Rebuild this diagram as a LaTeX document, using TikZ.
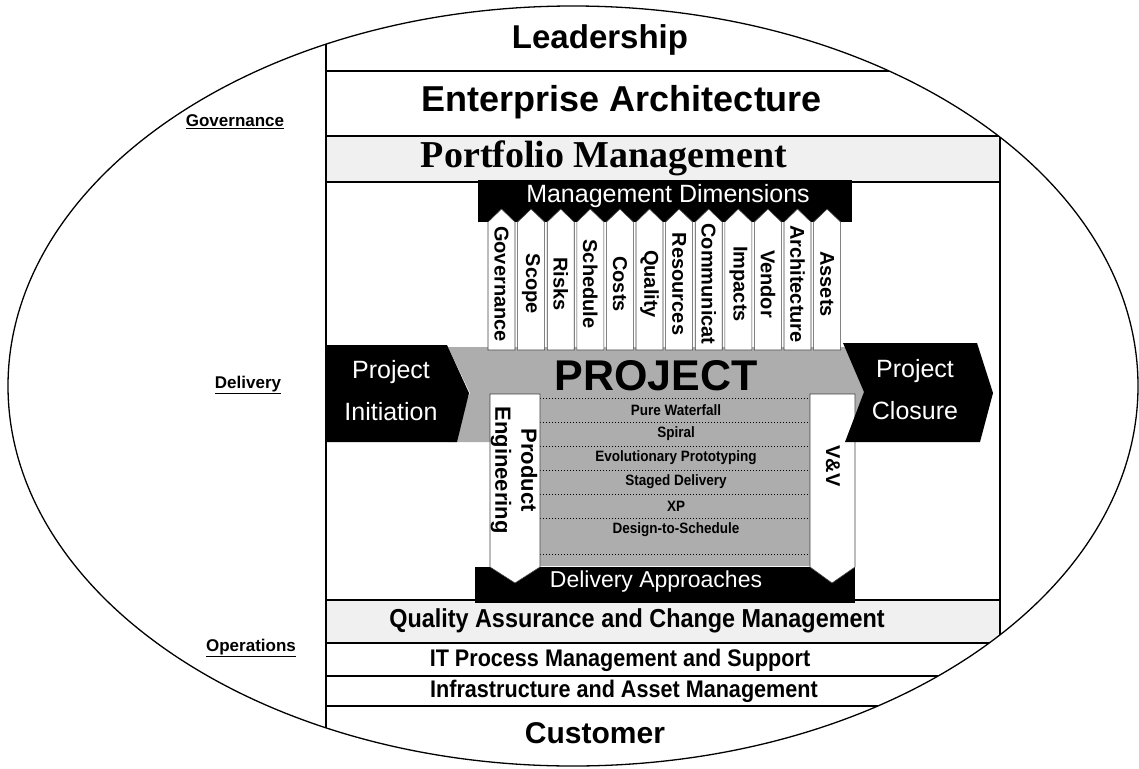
\documentclass[tikz,border=0pt]{standalone}
\usepackage{fontspec}
\setmainfont{Liberation Sans}
\newfontfamily\timesbold{Liberation Serif}
\newfontfamily\narrowsans[FakeStretch=0.9]{Liberation Sans}
\begin{document}
\begin{tikzpicture}[x=1pt,y=-1pt]

    \tikzset{
      band/.style={fill=black!6},
      sepline/.style={draw=black, line width=1.3pt},
      shade/.style={fill=black!32},
      darkbox/.style={fill=black},
      dimcol/.style={draw=black!75, line width=0.6pt, fill=white},
      dimlabel/.style={font=\bfseries\fontsize{20}{20}\selectfont, rotate=-90, anchor=center},
      rowline/.style={draw=black, line width=1pt, dotted},
      approach/.style={font=\narrowsans\bfseries\fontsize{15}{15}\selectfont},
      whitetext/.style={text=white, font=\fontsize{25}{42}\selectfont, align=center},
      sidelabel/.style={font=\bfseries\fontsize{17}{17}\selectfont},
      layer/.style={font=\narrowsans\bfseries\fontsize{24}{24}\selectfont},
    }
    \useasboundingbox (0,0) rectangle (1139,768);

    % bands of the oval
    \begin{scope}
      \clip (573,386) ellipse [x radius=565, y radius=380];
      \fill[band] (326,136) rectangle (1000,182);
      \fill[band] (326,600) rectangle (1000,643);
      \draw[sepline] (326,71) -- (1139,71);
      \draw[sepline] (326,136) -- (1000,136) -- (1000,768);
      \draw[sepline] (326,182) -- (1000,182);
      \draw[sepline] (326,600) -- (1000,600);
      \draw[sepline] (326,643) -- (1139,643);
      \draw[sepline] (326,676) -- (1139,676);
      \draw[sepline] (326,706) -- (1139,706);
      \draw[line width=1.8pt] (326,0) -- (326,768);
    \end{scope}
    \draw[line width=1.3pt] (573,386) ellipse [x radius=565, y radius=380];

    \node[font=\bfseries\fontsize{33}{33}\selectfont] (leader) at (600,40) {Leadership};
    \node[font=\bfseries\fontsize{36}{36}\selectfont] (entarch) at (622,102) {Enterprise Architecture};
    \node[font=\timesbold\bfseries\fontsize{38}{38}\selectfont] (portfolio) at (604,158) {Portfolio Management};

    \node[sidelabel] (govern) at (235,122) {\underline{Governance}};
    \node[sidelabel] (deliv) at (248,385) {\underline{Delivery}};
    \node[sidelabel] (oper) at (251,648) {\underline{Operations}};

    % project arrow and delivery area
    \fill[shade] (448,347) -- (850,347) -- (872,393) -- (850,442) -- (540,442)
      -- (540,566) -- (810,566) -- (810,442) -- (448,442) -- (470,393) -- cycle;
    \fill[shade] (540,395) rectangle (810,566);

    % management dimensions
    \fill[darkbox] (478,180) -- (852,180) -- (852,222) -- (478,222) -- cycle;
    \node[text=white, font=\fontsize{25}{25}\selectfont] (mgmt) at (668,196) {Management Dimensions};
    \foreach \dim [count=\i from 0] in {Governance,Scope,Risks,Schedule,Costs,Quality,Resources,Communicat,Impacts,Vendor,Architecture,Assets} {
      \pgfmathsetmacro\xl{488+\i*29.6}
      \draw[dimcol] (\xl,350) -- (\xl,222) -- (\xl+13.5,209) -- (\xl+27,222) -- (\xl+27,350) -- cycle;
      \node[dimlabel] (dim\i) at (\xl+13.5,284) {\dim};
    }

    \node[font=\bfseries\fontsize{43}{43}\selectfont] (proj) at (656,376) {PROJECT};

    % delivery approaches
    \foreach \appr [count=\i from 0] in {Pure Waterfall,Spiral,Evolutionary Prototyping,Staged Delivery,XP,Design-to-Schedule} {
      \draw[rowline] (540,398+\i*24) -- (810,398+\i*24);
      \node[approach] (appr\i) at (676,410+\i*24) {\appr};
    }
    \draw[rowline] (540,554) -- (810,554);

    \fill[darkbox] (475,567) -- (855,567) -- (855,603) -- (475,603) -- cycle;
    \node[text=white, font=\fontsize{23}{23}\selectfont] (delapp) at (656,582) {Delivery Approaches};

    \draw[dimcol] (490,394) -- (540,394) -- (540,567) -- (515,583) -- (490,567) -- cycle;
    \node[font=\bfseries\fontsize{22}{26}\selectfont, rotate=-90, align=center] (prodeng) at (514,470) {Product\\Engineering};
    \draw[dimcol] (810,394) -- (855,394) -- (855,567) -- (832,583) -- (810,567) -- cycle;
    \node[font=\bfseries\fontsize{20}{20}\selectfont, rotate=-90] (vv) at (833,466) {V\&V};

    % initiation and closure
    \fill[darkbox] (327,345) -- (447,345) -- (469,393) -- (457,442) -- (327,442) -- cycle;
    \node[whitetext] (init) at (391,391) {Project\\Initiation};
    \fill[darkbox] (843,343) -- (977,343) -- (993,393) -- (980,442) -- (845,442) -- (864,392) -- cycle;
    \node[whitetext] (close) at (915,390) {Project\\Closure};

    % operations
    \node[layer, font=\narrowsans\bfseries\fontsize{26}{26}\selectfont] (qa) at (637,621) {Quality Assurance and Change Management};
    \node[layer] (itpm) at (620,660) {IT Process Management and Support};
    \node[layer] (infra) at (624,691) {Infrastructure and Asset Management};
    \node[font=\bfseries\fontsize{30}{30}\selectfont] (cust) at (595,733) {Customer};

\end{tikzpicture}
\end{document}
